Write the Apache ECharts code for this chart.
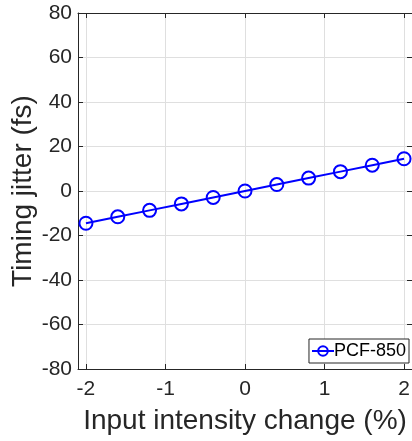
<!DOCTYPE html>
<html><head><meta charset="utf-8">
<script src="https://cdn.jsdelivr.net/npm/echarts@6/dist/echarts.min.js"></script>
<style>html,body{margin:0;padding:0;background:#fff}#c{width:412px;height:441px}</style>
</head><body><div id="c"></div>
<script>
const xValues = [-2, -1.6, -1.2, -0.8, -0.4, 0, 0.4, 0.8, 1.2, 1.6, 2];
const jitter = [-14.5, -11.6, -8.7, -5.8, -2.9, 0, 2.9, 5.8, 8.7, 11.6, 14.5];
const xTicks = [-2, -1, 0, 1, 2];
const seriesName = 'PCF-850';
const xTitle = 'Input intensity change (%)';
const yTitle = 'Timing jitter (fs)';

const chart = echarts.init(document.getElementById('c'), null, {renderer: 'canvas'});
const font = 'Liberation Sans, Arial, Helvetica, sans-serif';
const ink = '#262626';
const gridCol = '#dfdfdf';
const xCommon = {
  type: 'value', min: -2.1, max: 2.1,
  axisLine: {show: true, onZero: false, lineStyle: {color: ink, width: 1}},
  axisTick: {show: true, inside: true, length: 5, customValues: xTicks, lineStyle: {color: ink}},
  splitLine: {show: false}
};
const yCommon = {
  type: 'value', min: -80, max: 80, interval: 20,
  axisLine: {show: true, onZero: false, lineStyle: {color: ink, width: 1}},
  axisTick: {show: true, inside: true, length: 5, lineStyle: {color: ink}},
  splitLine: {show: false}
};
chart.setOption({
  animation: false,
  grid: {left: 78, right: 0, top: 13, bottom: 72, containLabel: false, outerBoundsMode: 'none'},
  legend: {
    data: [seriesName], right: 3, bottom: 78,
    orient: 'vertical',
    backgroundColor: '#fff', borderColor: ink, borderWidth: 1, borderRadius: 0,
    padding: [3, 3, 3, 2], itemWidth: 22, itemHeight: 12, itemGap: 0,
    textStyle: {fontFamily: font, fontSize: 18, color: '#000', padding: [0, 0, 0, -5]}
  },
  xAxis: [
    Object.assign({}, xCommon, {
      position: 'bottom',
      splitLine: {show: true, lineStyle: {color: gridCol, width: 1}},
      axisLabel: {show: true, customValues: xTicks, fontFamily: font, fontSize: 21, color: ink, margin: 10},
      name: xTitle, nameLocation: 'middle', nameGap: 38, nameMoveOverlap: false,
      nameTextStyle: {fontFamily: font, fontSize: 28, color: ink}
    }),
    Object.assign({}, xCommon, {position: 'top', axisLabel: {show: false}})
  ],
  yAxis: [
    Object.assign({}, yCommon, {
      position: 'left',
      splitLine: {show: true, lineStyle: {color: gridCol, width: 1}},
      axisLabel: {show: true, fontFamily: font, fontSize: 21, color: ink, margin: 6},
      name: yTitle, nameLocation: 'middle', nameGap: 41, nameMoveOverlap: false,
      nameTextStyle: {fontFamily: font, fontSize: 28, color: ink}
    }),
    Object.assign({}, yCommon, {position: 'right', axisLabel: {show: false}})
  ],
  series: [{
    name: seriesName, type: 'line',
    data: xValues.map((x, i) => [x, jitter[i]]),
    symbol: 'circle', symbolSize: 13,
    itemStyle: {color: 'rgba(0,0,0,0)', borderColor: '#0000ff', borderWidth: 2},
    lineStyle: {color: '#0000ff', width: 2},
    xAxisIndex: 0, yAxisIndex: 0
  }]
});
</script></body></html>
